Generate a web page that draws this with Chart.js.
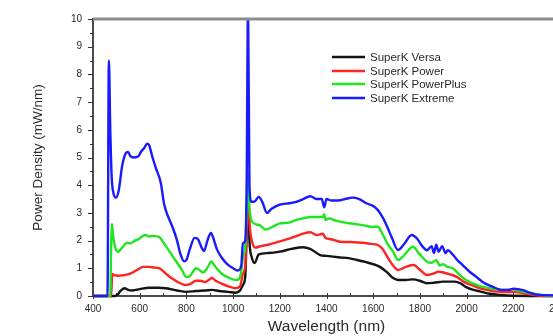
<!DOCTYPE html>
<html>
<head>
<meta charset="utf-8">
<script src="https://cdn.jsdelivr.net/npm/chart.js@4.4.1/dist/chart.umd.min.js"></script>
<style>
  html, body { margin: 0; padding: 0; background: #fff; overflow: hidden; }
  #wrap { position: relative; width: 580px; height: 336px; }
  canvas { display: block; }
</style>
</head>
<body>
<div id="wrap"><canvas id="c" width="580" height="336"></canvas></div>
<script>
// ---- Data ----
const seriesNames = ["SuperK Versa", "SuperK Power", "SuperK PowerPlus", "SuperK Extreme"];
const seriesColors = ["#141414", "#ff2424", "#1fe61f", "#1a1aff"];

const xTickLabels = [400, 600, 800, 1000, 1200, 1400, 1600, 1800, 2000, 2200, 2400];
const yTickLabels = [0, 1, 2, 3, 4, 5, 6, 7, 8, 9, 10];

// SuperK Versa (black)
const versaNm  = [400, 495, 505, 520, 535, 550, 570, 600, 640, 680, 720, 760, 800, 840, 880, 910, 940, 980, 1010, 1030, 1042, 1052, 1058, 1064, 1070, 1080, 1092, 1110, 1150, 1200, 1250, 1300, 1330, 1373, 1400, 1450, 1500, 1530, 1570, 1600, 1627, 1660, 1685, 1707, 1740, 1770, 1800, 1830, 1860, 1900, 1950, 1975, 2000, 2030, 2060, 2100, 2140, 2200, 2400];
const versaVal = [0, 0, 0.05, 0.2, 0.28, 0.22, 0.2, 0.25, 0.3, 0.3, 0.27, 0.2, 0.15, 0.18, 0.2, 0.22, 0.18, 0.15, 0.12, 0.2, 0.4, 0.7, 2.2, 4.0, 2.0, 1.4, 1.19, 1.5, 1.55, 1.6, 1.7, 1.76, 1.7, 1.48, 1.45, 1.4, 1.36, 1.3, 1.22, 1.15, 1.06, 0.85, 0.65, 0.58, 0.58, 0.6, 0.55, 0.46, 0.48, 0.52, 0.52, 0.45, 0.31, 0.22, 0.16, 0.08, 0.04, 0.01, 0];

// SuperK Power (red)
const powerNm  = [400, 478, 482, 490, 510, 530, 550, 570, 590, 615, 640, 660, 685, 700, 720, 740, 760, 785, 800, 820, 840, 860, 880, 895, 910, 925, 950, 980, 1010, 1030, 1042, 1052, 1058, 1064, 1070, 1080, 1095, 1120, 1150, 1200, 1250, 1300, 1330, 1360, 1385, 1395, 1420, 1458, 1500, 1550, 1590, 1620, 1640, 1665, 1685, 1707, 1740, 1772, 1800, 1830, 1860, 1880, 1900, 1930, 1960, 1986, 2020, 2058, 2100, 2130, 2170, 2200, 2240, 2280, 2320, 2400];
const powerVal = [0, 0, 0.8, 0.75, 0.73, 0.75, 0.78, 0.85, 0.95, 1.05, 1.05, 1.03, 1.0, 0.9, 0.75, 0.62, 0.52, 0.42, 0.4, 0.45, 0.55, 0.55, 0.5, 0.58, 0.65, 0.55, 0.45, 0.35, 0.28, 0.35, 0.8, 1.1, 2.5, 4.2, 2.7, 2.0, 1.75, 1.8, 1.85, 1.97, 2.1, 2.25, 2.3, 2.2, 2.25, 2.1, 2.05, 1.96, 1.95, 1.92, 1.88, 1.84, 1.7, 1.35, 1.1, 0.94, 1.05, 1.12, 0.95, 0.76, 0.82, 0.88, 0.85, 0.78, 0.68, 0.52, 0.4, 0.28, 0.2, 0.16, 0.14, 0.15, 0.1, 0.05, 0.01, 0];

// SuperK PowerPlus (green)
const powerPlusNm  = [400, 474, 478, 481, 486, 495, 507, 520, 535, 545, 560, 580, 595, 610, 625, 640, 660, 685, 700, 720, 740, 760, 780, 800, 815, 830, 840, 855, 870, 885, 895, 907, 920, 940, 960, 985, 1010, 1025, 1035, 1042, 1052, 1058, 1064, 1070, 1078, 1095, 1115, 1140, 1170, 1200, 1240, 1270, 1300, 1330, 1360, 1385, 1390, 1395, 1410, 1440, 1480, 1520, 1560, 1590, 1620, 1635, 1660, 1685, 1707, 1730, 1770, 1795, 1830, 1850, 1870, 1885, 1900, 1915, 1940, 1960, 1986, 2020, 2058, 2100, 2130, 2170, 2200, 2230, 2273, 2310, 2345, 2400];
const powerPlusVal = [0, 0, 2.0, 2.6, 2.2, 1.75, 1.6, 1.7, 1.85, 1.92, 1.9, 2.0, 2.05, 2.15, 2.2, 2.15, 2.17, 2.12, 1.95, 1.7, 1.45, 1.2, 0.95, 0.68, 0.72, 0.9, 1.0, 0.95, 0.85, 0.95, 1.1, 1.25, 1.1, 0.9, 0.75, 0.65, 0.58, 0.6, 0.9, 1.4, 1.8, 3.0, 4.4, 3.2, 2.75, 2.6, 2.55, 2.4, 2.5, 2.62, 2.65, 2.75, 2.8, 2.85, 2.85, 2.85, 2.95, 2.75, 2.8, 2.72, 2.65, 2.6, 2.55, 2.5, 2.5, 2.32, 1.9, 1.6, 1.3, 1.45, 1.78, 1.55, 1.24, 1.2, 1.3, 1.1, 1.15, 1.06, 1.0, 0.85, 0.64, 0.48, 0.36, 0.28, 0.24, 0.22, 0.24, 0.18, 0.1, 0.05, 0.02, 0.01];

// SuperK Extreme (blue)
const extremeNm  = [400, 462, 468, 474, 480, 488, 498, 510, 525, 540, 550, 560, 575, 595, 605, 620, 632, 640, 655, 670, 690, 705, 720, 740, 760, 775, 790, 800, 815, 835, 850, 865, 875, 890, 905, 915, 930, 950, 975, 1000, 1020, 1035, 1042, 1052, 1058, 1064, 1070, 1078, 1090, 1110, 1125, 1145, 1165, 1200, 1240, 1270, 1300, 1330, 1360, 1380, 1390, 1400, 1420, 1450, 1480, 1510, 1540, 1570, 1600, 1620, 1640, 1660, 1680, 1706, 1730, 1765, 1790, 1810, 1830, 1850, 1860, 1870, 1880, 1895, 1910, 1920, 1940, 1960, 1985, 2010, 2040, 2070, 2110, 2150, 2180, 2200, 2220, 2245, 2270, 2300, 2340, 2400];
const extremeVal = [0, 0, 8.5, 6.0, 4.3, 3.7, 3.55, 3.8, 4.7, 5.15, 5.2, 5.05, 5.0, 5.05, 5.2, 5.35, 5.5, 5.45, 5.0, 4.6, 4.1, 3.3, 2.9, 2.5, 2.0, 1.5, 1.25, 1.3, 1.7, 2.1, 2.05, 1.75, 1.62, 2.0, 2.28, 2.1, 1.7, 1.4, 1.15, 1.0, 0.92, 1.1, 1.9, 2.0, 4.0, 10.5, 4.0, 3.4, 3.4, 3.58, 3.4, 3.0, 3.15, 3.3, 3.35, 3.4, 3.5, 3.6, 3.5, 3.5, 3.2, 3.5, 3.45, 3.45, 3.5, 3.55, 3.5, 3.35, 3.25, 3.1, 2.85, 2.5, 2.1, 1.66, 1.85, 2.2, 2.05, 1.8, 1.65, 1.8, 1.55, 1.85, 1.6, 1.8, 1.55, 1.65, 1.5, 1.3, 1.1, 0.9, 0.7, 0.5, 0.34, 0.22, 0.22, 0.26, 0.25, 0.2, 0.12, 0.05, 0.03, 0.02];

const xTitle = "Wavelength (nm)";
const yTitle = "Power Density (mW/nm)";

// ---- Build datasets ----
function pts(nm, v) { return nm.map((x, i) => ({ x: x, y: v[i] })); }
const seriesData = [pts(versaNm, versaVal), pts(powerNm, powerVal), pts(powerPlusNm, powerPlusVal), pts(extremeNm, extremeVal)];
const drawOrder = [3, 2, 1, 0]; // blue on top

const FONT = "'Liberation Sans', Arial, sans-serif";
const TXT = "#2a2a2a";

const decoPlugin = {
  id: 'deco',
  beforeDatasetsDraw(chart) {
    const ctx = chart.ctx;
    const a = chart.chartArea;
    const xs = chart.scales.x, ys = chart.scales.y;
    ctx.save();
    // left & bottom axes (drawn beneath the curves)
    ctx.strokeStyle = '#111';
    ctx.lineWidth = 1.5;
    ctx.beginPath();
    ctx.moveTo(a.left, a.top - 1);
    ctx.lineTo(a.left, a.bottom);
    ctx.lineTo(chart.width, a.bottom);
    ctx.stroke();
    // ticks
    ctx.lineWidth = 1;
    ctx.strokeStyle = '#333';
    ctx.beginPath();
    for (let v = 400; v <= 2400; v += 100) {
      const px = Math.round(xs.getPixelForValue(v)) + 0.5;
      const major = (v % 200 === 0);
      ctx.moveTo(px, a.bottom - 3);
      ctx.lineTo(px, a.bottom + (major ? 3 : 0));
    }
    for (let v = 0; v <= 10; v += 0.5) {
      const py = Math.round(ys.getPixelForValue(v)) + 0.5;
      const major = Number.isInteger(v);
      ctx.moveTo(a.left, py);
      ctx.lineTo(a.left - (major ? 5 : 3), py);
    }
    ctx.stroke();
    ctx.restore();
  },
  afterDatasetsDraw(chart) {
    const ctx = chart.ctx;
    const a = chart.chartArea;
    ctx.save();
    // top frame line (grey)
    ctx.strokeStyle = '#8c8c8c';
    ctx.lineWidth = 3;
    ctx.beginPath();
    ctx.moveTo(a.left, a.top);
    ctx.lineTo(chart.width, a.top);
    ctx.stroke();
    // legend
    const lx0 = 332, lx1 = 365, tx = 370;
    const rows = [57, 71, 84, 98];
    ctx.font = "11.5px " + FONT;
    ctx.textBaseline = 'middle';
    ctx.textAlign = 'left';
    for (let i = 0; i < seriesNames.length; i++) {
      ctx.strokeStyle = seriesColors[i];
      ctx.lineWidth = 2.5;
      ctx.beginPath();
      ctx.moveTo(lx0, rows[i]);
      ctx.lineTo(lx1, rows[i]);
      ctx.stroke();
      ctx.fillStyle = TXT;
      ctx.fillText(seriesNames[i], tx, rows[i] + 0.5);
    }
    ctx.restore();
  }
};

new Chart(document.getElementById('c'), {
  type: 'line',
  data: {
    datasets: seriesData.map((d, i) => ({
      label: seriesNames[i],
      data: d,
      borderColor: seriesColors[i],
      backgroundColor: seriesColors[i],
      borderWidth: 2.4,
      pointRadius: 0,
      cubicInterpolationMode: 'monotone',
      fill: false,
      clip: { left: 0, top: 0, right: 5, bottom: 4 },
      order: drawOrder[i]
    }))
  },
  options: {
    responsive: false,
    animation: false,
    devicePixelRatio: 1,
    layout: { padding: { top: 19, right: 20, bottom: 0, left: 0 } },
    plugins: { legend: { display: false }, tooltip: { enabled: false } },
    scales: {
      x: {
        type: 'linear',
        min: 400, max: 2400,
        afterBuildTicks: s => { s.ticks = xTickLabels.map(v => ({ value: v })); },
        ticks: { font: { family: FONT, size: 10 }, color: TXT, padding: 4, maxRotation: 0, autoSkip: false, callback: v => String(v) },
        grid: { display: false, drawTicks: true, tickLength: 3, tickColor: 'rgba(0,0,0,0)' },
        border: { display: false },
        title: { display: true, text: xTitle, font: { family: FONT, size: 15.5 }, color: TXT, padding: { top: 0, bottom: 0 } },
        afterFit: s => { s.height = 40; }
      },
      y: {
        type: 'linear',
        min: 0, max: 10,
        afterBuildTicks: s => { s.ticks = yTickLabels.map(v => ({ value: v })); },
        ticks: { font: { family: FONT, size: 10 }, color: TXT, padding: 6, autoSkip: false, callback: v => String(v) },
        grid: { display: false, drawTicks: true, tickLength: 5, tickColor: 'rgba(0,0,0,0)' },
        border: { display: false },
        title: { display: true, text: yTitle, font: { family: FONT, size: 13.5 }, color: TXT, padding: { top: 30, bottom: 0 } },
        afterFit: s => { s.width = 93; }
      }
    }
  },
  plugins: [decoPlugin]
});
</script>
</body>
</html>
